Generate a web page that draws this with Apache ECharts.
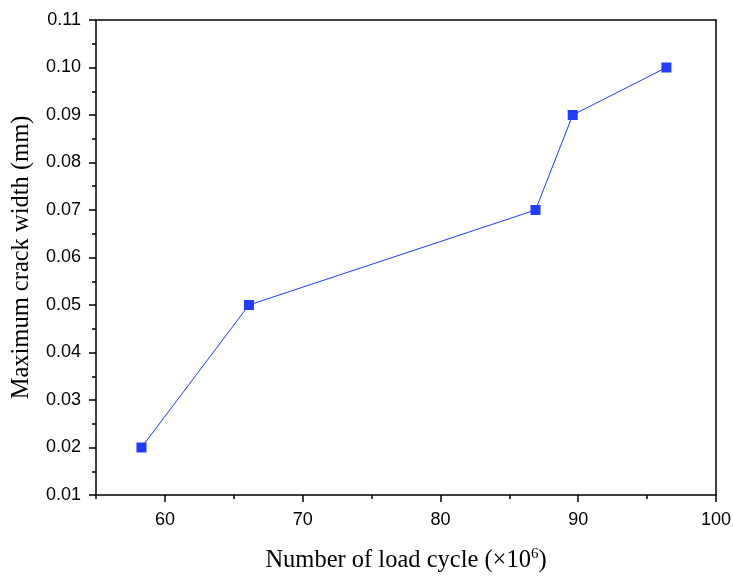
<!DOCTYPE html>
<html>
<head>
<meta charset="utf-8">
<script src="https://cdn.jsdelivr.net/npm/echarts@6/dist/echarts.min.js"></script>
<style>
  html, body { margin: 0; padding: 0; background: #fff; }
  #chart { width: 733px; height: 577px; }
</style>
</head>
<body>
<div id="chart"></div>
<script>
// load cycles (x10^6) and max crack width (mm)
const loadCycles = [58.3, 66.1, 86.9, 89.6, 96.4];
const crackWidth = [0.02, 0.05, 0.07, 0.09, 0.10];
const xTicks = [60, 70, 80, 90, 100];

const chart = echarts.init(document.getElementById('chart'));

const tickFont = { color: '#000', fontSize: 18, fontFamily: 'Liberation Sans, Arial, sans-serif' };
const titleFont = 'Liberation Serif, Times New Roman, serif';
const blackLine = { color: '#000', width: 1.5 };

const option = {
  backgroundColor: '#fff',
  animation: false,
  grid: { left: 96, right: 17, top: 20, bottom: 82, outerBoundsMode: 'none' },
  xAxis: [{
    type: 'value',
    min: 55, max: 100,
    name: '{a|Number of load cycle (×10}{s|6}{a|)}',
    nameLocation: 'middle',
    nameGap: 52,
    nameTextStyle: {
      rich: {
        a: { fontSize: 24.5, fontFamily: titleFont, color: '#000' },
        s: { fontSize: 15, fontFamily: titleFont, color: '#000', verticalAlign: 'top', padding: [0, 0, 12, 0] }
      }
    },
    axisLine: { show: true, onZero: false, lineStyle: blackLine },
    axisTick: { show: true, inside: false, length: 7, customValues: xTicks, lineStyle: blackLine },
    axisLabel: Object.assign({ margin: 16, customValues: xTicks }, tickFont),
    splitLine: { show: false }
  }, {
    // minor ticks every 5
    type: 'value', position: 'bottom', min: 55, max: 100, interval: 5,
    axisLine: { show: false },
    axisTick: { show: true, inside: false, length: 4, lineStyle: blackLine },
    axisLabel: { show: false }, splitLine: { show: false }
  }, {
    type: 'value', position: 'top', min: 55, max: 100,
    axisLine: { show: true, onZero: false, lineStyle: blackLine },
    axisTick: { show: false }, axisLabel: { show: false }, splitLine: { show: false }
  }],
  yAxis: [{
    type: 'value',
    min: 0.01, max: 0.11, interval: 0.01,
    name: 'Maximum crack width (mm)',
    nameLocation: 'middle',
    nameGap: 62,
    nameTextStyle: { fontSize: 24.5, fontFamily: titleFont, color: '#000' },
    axisLine: { show: true, onZero: false, lineStyle: blackLine },
    axisTick: { show: true, inside: false, length: 7, lineStyle: blackLine },
    minorTick: { show: true, splitNumber: 2, length: 4, lineStyle: blackLine },
    axisLabel: Object.assign({ margin: 15, formatter: v => v.toFixed(2) }, tickFont),
    splitLine: { show: false }
  }, {
    type: 'value', position: 'right', min: 0.01, max: 0.11,
    axisLine: { show: true, onZero: false, lineStyle: blackLine },
    axisTick: { show: false }, axisLabel: { show: false }, splitLine: { show: false }
  }],
  series: [{
    type: 'line',
    data: loadCycles.map((x, i) => [x, crackWidth[i]]),
    symbol: 'rect',
    symbolSize: 10,
    itemStyle: { color: '#1f3cff' },
    lineStyle: { color: '#1f3cff', width: 1 }
  }]
};

chart.setOption(option);
</script>
</body>
</html>
